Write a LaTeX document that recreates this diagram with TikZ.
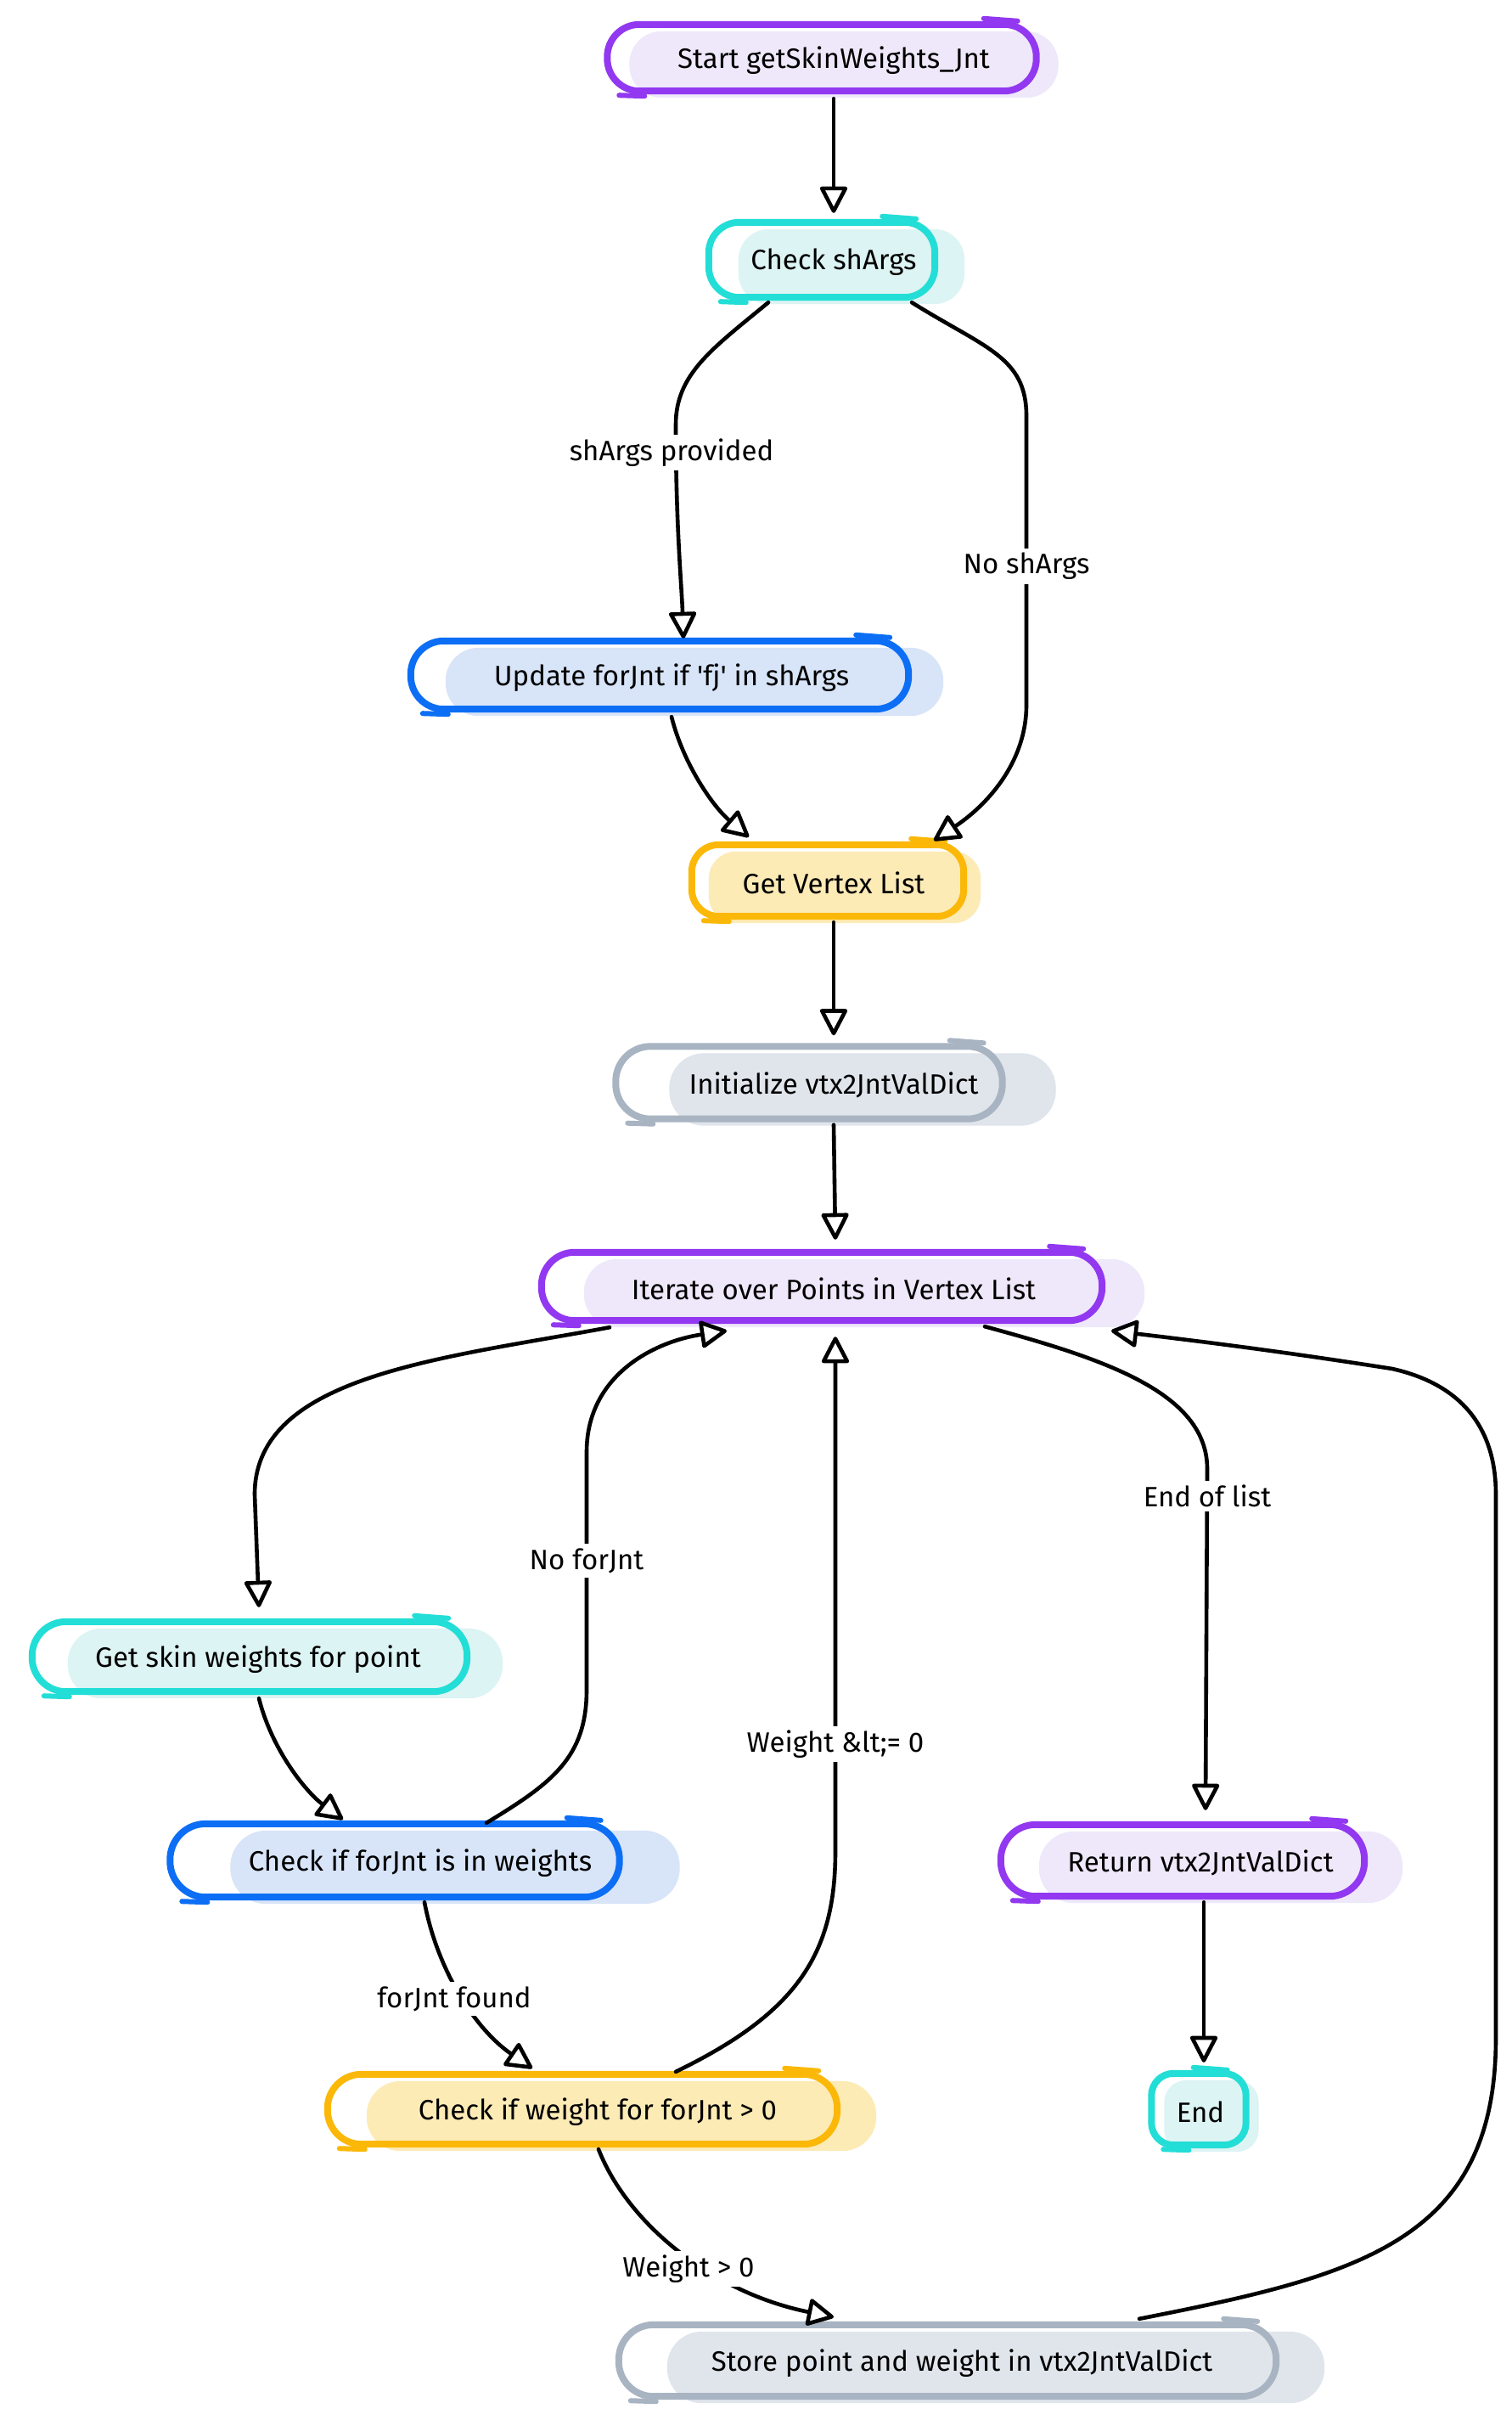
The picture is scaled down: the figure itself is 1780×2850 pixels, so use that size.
\documentclass[tikz,border=0pt]{standalone}
\usepackage{fontspec}
\newfontfamily\firafont{Fira Sans}
\usetikzlibrary{arrows.meta}
\pgfdeclarelayer{bg}
\pgfsetlayers{bg,main}
\definecolor{purpleline}{RGB}{146,56,240}
\definecolor{purplefill}{RGB}{238,232,250}
\definecolor{cyanline}{RGB}{34,222,214}
\definecolor{cyanfill}{RGB}{220,244,243}
\definecolor{blueline}{RGB}{12,110,245}
\definecolor{bluefill}{RGB}{216,228,248}
\definecolor{yellowline}{RGB}{251,184,8}
\definecolor{yellowfill}{RGB}{253,235,182}
\definecolor{grayline}{RGB}{168,180,194}
\definecolor{grayfill}{RGB}{224,229,236}
\newcommand\nodefont{\firafont\fontsize{33}{40}\selectfont}
% #1 node, #2 colour prefix, #3 outline dx, #4 fill dx, #5 radius
\newcommand\deco[5]{%
  \begin{pgfonlayer}{bg}
  \fill[fill=#2fill, rounded corners=#5] ([shift={(#4,5)}]#1.north west) rectangle ([shift={(#4,5)}]#1.south east);
  \draw[draw=#2line, line width=8pt, rounded corners=#5] ([shift={(#3,-3)}]#1.north west) rectangle ([shift={(#3,-3)}]#1.south east);
  \draw[draw=#2line, line width=6pt, line cap=round] ([shift={(#3-62,-10)}]#1.north east) -- ++(40,3);
  \draw[draw=#2line, line width=6pt, line cap=round] ([shift={(#3+14,2)}]#1.south west) -- ++(30,1);
  \end{pgfonlayer}}
\tikzset{
  box/.style={inner sep=0pt, font=\nodefont, text=black},
  lbl/.style={fill=white, inner sep=5pt, font=\nodefont, text=black},
  edge/.style={draw=black, line width=4.6pt, line cap=round, line join=round,
    -{Triangle[fill=white, length=34pt, width=34pt, line width=4.6pt, round]}}
}
\begin{document}
\begin{tikzpicture}[x=1pt,y=-1pt]
\useasboundingbox (0,0) rectangle (1780,2850);
\begin{pgfonlayer}{bg}
\fill[white] (0,0) rectangle (1780,2850);
\end{pgfonlayer}

\node[box, minimum width=505pt, minimum height=78pt] (start) at (982,71) {Start getSkinWeights\_Jnt};
\node[box, minimum width=266pt, minimum height=88pt] (check) at (982,309) {Check shArgs};
\node[box, minimum width=586pt, minimum height=80pt] (update) at (791,798) {Update forJnt if 'fj' in shArgs};
\node[box, minimum width=320pt, minimum height=84pt] (gvl) at (982,1040) {Get Vertex List};
\node[box, minimum width=455pt, minimum height=85pt] (init) at (982,1278) {Initialize vtx2JntValDict};
\node[box, minimum width=660pt, minimum height=80pt] (iter) at (982,1518) {Iterate over Points in Vertex List};
\node[box, minimum width=512pt, minimum height=82pt] (getskin) at (304,1954) {Get skin weights for point};
\node[box, minimum width=529pt, minimum height=86pt] (checkfj) at (495,2194) {Check if forJnt is in weights};
\node[box, minimum width=600pt, minimum height=82pt] (checkw) at (704,2487) {Check if weight for forJnt > 0};
\node[box, minimum width=774pt, minimum height=84pt] (store) at (1133,2783) {Store point and weight in vtx2JntValDict};
\node[box, minimum width=428pt, minimum height=84pt] (ret) at (1414,2194) {Return vtx2JntValDict};
\node[box, minimum width=111pt, minimum height=84pt] (fin) at (1414,2487) {End};

\deco{start}{purple}{-14}{12}{38pt}
\deco{check}{cyan}{-14}{21}{36pt}
\deco{update}{blue}{-14}{27}{39pt}
\deco{gvl}{yellow}{-7}{13}{32pt}
\deco{init}{gray}{-29}{34}{41pt}
\deco{iter}{purple}{-14}{36}{39pt}
\deco{getskin}{cyan}{-10}{32}{40pt}
\deco{checkfj}{blue}{-30}{41}{42pt}
\deco{checkw}{yellow}{-18}{28}{40pt}
\deco{store}{gray}{-17}{40}{41pt}
\deco{ret}{purple}{-21}{24}{41pt}
\deco{fin}{cyan}{-2}{13}{26pt}

% edges
\draw[edge] ([shift={(0,6)}]start.south) -- ([shift={(0,-14)}]check.north);
\draw[edge] ([shift={(-77,3)}]check.south) .. controls (840,410) and (796,440) .. (796,500)
  .. controls (796,620) and (803,690) .. ([shift={(14,-6)}]update.north);
\draw[edge] ([shift={(92,3)}]check.south) .. controls (1160,410) and (1209,420) .. (1209,490)
  -- (1209,830) .. controls (1209,900) and (1160,950) .. ([shift={(118,-8)}]gvl.north);
\draw[edge] ([shift={(0,6)}]update.south) .. controls (805,900) and (840,950) .. ([shift={(-100,-12)}]gvl.north);
\draw[edge] ([shift={(0,4)}]gvl.south) -- ([shift={(0,-16)}]init.north);
\draw[edge] ([shift={(0,4)}]init.south) -- ([shift={(2,-18)}]iter.north);
\draw[edge] ([shift={(-264,5)}]iter.south) .. controls (520,1600) and (300,1620) .. (300,1760)
  -- ([shift={(1,-20)}]getskin.north);
\draw[edge] ([shift={(1,5)}]getskin.south) .. controls (320,2060) and (360,2110) .. ([shift={(-91,-8)}]checkfj.north);
\draw[edge] ([shift={(78,-4)}]checkfj.north) .. controls (650,2100) and (691,2070) .. (691,1990)
  -- (691,1710) .. controls (691,1620) and (770,1580) .. ([shift={(-126,9)}]iter.south);
\draw[edge] ([shift={(5,3)}]checkfj.south) .. controls (515,2320) and (560,2390) .. ([shift={(-77,-10)}]checkw.north);
\draw[edge] ([shift={(92,-6)}]checkw.north) .. controls (940,2370) and (984,2300) .. (984,2180)
  -- ([shift={(2,16)}]iter.south);
\draw[edge] ([shift={(1,3)}]checkw.south) .. controls (740,2620) and (840,2700) .. ([shift={(-151,-12)}]store.north);
\draw[edge] ([shift={(209,-10)}]store.north) .. controls (1600,2680) and (1762,2640) .. (1762,2400)
  -- (1762,1760) .. controls (1762,1680) and (1720,1630) .. (1640,1612)
  .. controls (1500,1590) and (1400,1578) .. ([shift={(327,9)}]iter.south);
\draw[edge] ([shift={(178,4)}]iter.south) .. controls (1300,1600) and (1422,1640) .. (1422,1730)
  -- ([shift={(6,-20)}]ret.north);
\draw[edge] ([shift={(4,4)}]ret.south) -- ([shift={(4,-16)}]fin.north);

% edge labels
\node[lbl] (l1) at (791,533) {shArgs provided};
\node[lbl] (l2) at (1209,667) {No shArgs};
\node[lbl] (l3) at (691,1838) {No forJnt};
\node[lbl] (l4) at (535,2354) {forJnt found};
\node[lbl] (l5) at (984,2054) {Weight \&lt;= 0};
\node[lbl] (l6) at (811,2672) {Weight > 0};
\node[lbl] (l7) at (1422,1762) {End of list};
\end{tikzpicture}
\end{document}
